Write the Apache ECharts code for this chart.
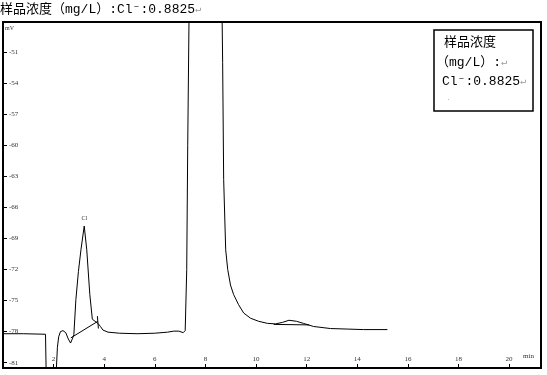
<!DOCTYPE html>
<html lang="zh">
<head>
    <meta charset="UTF-8">
    <title>样品浓度 Cl- 色谱图</title>
    <script src="https://cdn.jsdelivr.net/npm/echarts@6/dist/echarts.min.js"></script>
    <style>
        html, body { margin: 0; padding: 0; background: #fff; }
    </style>
</head>
<body>
    <div id="main" style="width: 547px; height: 375px"></div>
</body>
<script>
    // 时间(min) / 信号(mV)
    var signal = [
        [0.0, -78.2], [0.8, -78.2], [1.68, -78.25], [1.72, -84], [1.9, -90],
        [2.07, -84], [2.11, -81.5], [2.15, -79.5], [2.2, -78.5], [2.27, -78.0],
        [2.37, -77.9], [2.48, -78.1], [2.58, -78.7], [2.67, -79.1], [2.74, -78.7],
        [2.80, -78.3], [2.88, -74.9], [2.98, -72.2], [3.08, -70.1], [3.21, -67.8],
        [3.31, -70.1], [3.43, -74.4], [3.53, -76.8], [3.64, -77.0], [3.75, -77.2],
        [3.85, -77.5], [3.95, -77.85], [4.15, -78.05], [4.6, -78.15], [5.3, -78.2],
        [6.0, -78.15], [6.5, -78.05], [6.75, -77.95], [6.95, -77.95], [7.12, -78.1],
        [7.2, -77.9], [7.26, -72], [7.3, -60], [7.35, -48], [7.4, -35],
        [8.0, -20], [8.6, -35], [8.66, -48], [8.68, -52], [8.72, -63.3],
        [8.80, -70.1], [8.88, -72.0], [8.99, -73.5], [9.11, -74.4], [9.31, -75.4],
        [9.51, -76.2], [9.78, -76.7], [10.10, -77.0], [10.45, -77.2], [10.77, -77.25],
        [11.05, -77.1], [11.3, -76.9], [11.6, -77.0], [11.87, -77.2], [12.27, -77.5],
        [12.94, -77.7], [13.6, -77.75], [14.24, -77.8], [15.19, -77.8]
    ];
    // 积分基线
    var clBaseline = [[2.68, -78.6], [3.75, -77.0]];
    var clEndMark = [[3.73, -76.5], [3.77, -77.7]];
    var secondBaseline = [[10.7, -77.3], [12.1, -77.35]];
    var clPeak = [3.21, -67.8];

    var yTicks = [-81, -78, -75, -72, -69, -66, -63, -60, -57, -54, -51];
    var titleText = '样品浓度（mg/L）:Cl⁻:0.8825';
    var boxLines = ['样品浓度', '（mg/L）:', 'Cl⁻:0.8825'];

    var font = '"Liberation Mono", "Noto Sans CJK SC", monospace';
    var tickFont = '"Liberation Serif", serif';

    var chart = echarts.init(document.getElementById('main'));
    chart.setOption({
        animation: false,
        grid: {
            left: 3, top: 22, right: 6, bottom: 7,
            show: true, borderColor: '#000', borderWidth: 2
        },
        xAxis: {
            type: 'value',
            min: 0, max: 21.26, interval: 2,
            axisLine: { show: true, lineStyle: { color: '#000', width: 2 } },
            axisTick: { show: true, inside: true, length: 4, lineStyle: { color: '#000' } },
            axisLabel: {
                inside: true, margin: 5, fontSize: 7, color: '#333',
                fontFamily: tickFont, showMinLabel: false, showMaxLabel: false
            },
            splitLine: { show: false }
        },
        yAxis: {
            type: 'value',
            min: -81.51, max: -48.1,
            axisLine: { show: true, lineStyle: { color: '#000', width: 2 } },
            axisTick: {
                show: true, inside: true, length: 4,
                customValues: yTicks, lineStyle: { color: '#000' }
            },
            axisLabel: {
                inside: true, margin: 6, fontSize: 7, color: '#333',
                fontFamily: tickFont, customValues: yTicks
            },
            splitLine: { show: false }
        },
        series: [
            {
                type: 'line', data: signal, symbol: 'none', clip: true,
                lineStyle: { color: '#000', width: 1 },
                markPoint: {
                    symbolSize: 0,
                    data: [{ coord: clPeak }],
                    label: {
                        show: true, formatter: 'Cl', position: 'top', distance: 5,
                        fontSize: 6, color: '#333', fontFamily: tickFont
                    }
                }
            },
            { type: 'line', data: clBaseline, symbol: 'none', lineStyle: { color: '#000', width: 1 } },
            { type: 'line', data: clEndMark, symbol: 'none', lineStyle: { color: '#000', width: 1 } },
            { type: 'line', data: secondBaseline, symbol: 'none', lineStyle: { color: '#000', width: 1 } }
        ],
        graphic: [
            {
                type: 'text', left: 0, top: 3,
                style: {
                    text: '{a|' + titleText + '}{b|↵}',
                    rich: {
                        a: { fontSize: 13, fontFamily: font, fill: '#000' },
                        b: { fontSize: 10, fontFamily: font, fill: '#999' }
                    }
                }
            },
            { type: 'text', left: 5, top: 25, style: { text: 'mV', fontSize: 6, fontFamily: tickFont, fill: '#333' } },
            { type: 'text', left: 523, top: 353, style: { text: 'min', fontSize: 7, fontFamily: tickFont, fill: '#333' } },
            {
                type: 'rect', shape: { x: 434, y: 30, width: 99, height: 81 },
                style: { fill: '#fff', stroke: '#000', lineWidth: 1.5 }
            },
            {
                type: 'text', left: 444, top: 36,
                style: { text: boxLines[0], fontSize: 13, fontFamily: font, fill: '#000' }
            },
            {
                type: 'text', left: 436, top: 56,
                style: {
                    text: '{a|' + boxLines[1] + '}{b|↵}',
                    rich: { a: { fontSize: 13, fontFamily: font, fill: '#000' }, b: { fontSize: 10, fontFamily: font, fill: '#999' } }
                }
            },
            {
                type: 'text', left: 442, top: 75,
                style: {
                    text: '{a|' + boxLines[2] + '}{b|↵}',
                    rich: { a: { fontSize: 13, fontFamily: font, fill: '#000' }, b: { fontSize: 10, fontFamily: font, fill: '#999' } }
                }
            },
            { type: 'text', left: 447, top: 96, style: { text: '·', fontSize: 8, fill: '#aaa' } }
        ]
    });
</script>
</html>
